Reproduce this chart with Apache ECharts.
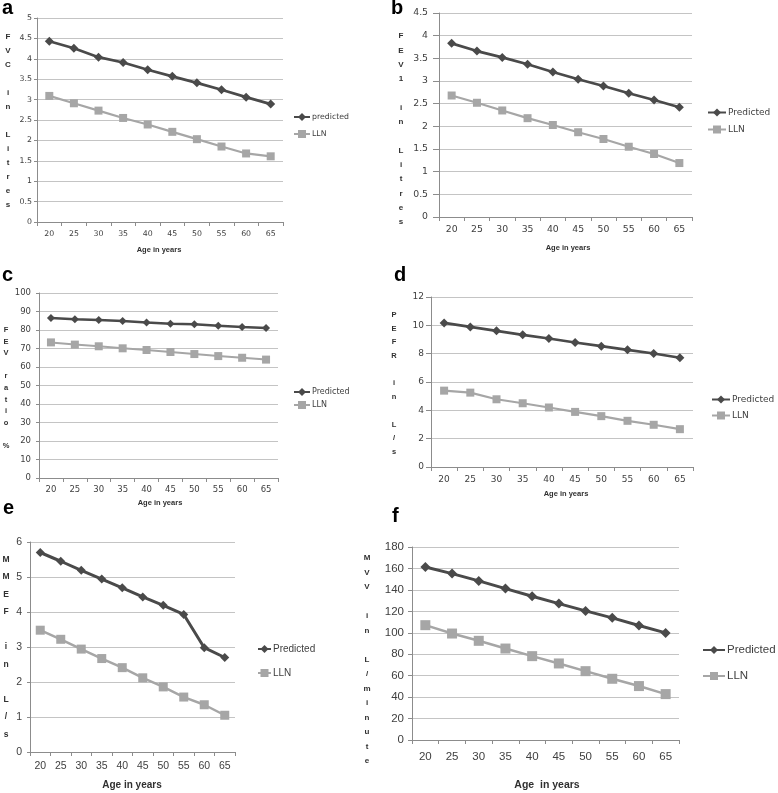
<!DOCTYPE html>
<html><head><meta charset="utf-8">
<script src="https://cdn.jsdelivr.net/npm/echarts@6/dist/echarts.min.js"></script>
<style>html,body{margin:0;padding:0;background:#fff}#c{width:778px;height:793px}</style>
</head><body><div id="c"></div>
<script>
// ---- data ----
const ages = ['20','25','30','35','40','45','50','55','60','65'];
const fvcPredicted = [4.43,4.26,4.04,3.91,3.73,3.57,3.41,3.24,3.06,2.89];
const fvcLLN = [3.09,2.91,2.73,2.55,2.39,2.21,2.03,1.85,1.68,1.61];
const fev1Predicted = [3.83,3.66,3.52,3.37,3.20,3.04,2.89,2.73,2.58,2.42];
const fev1LLN = [2.68,2.52,2.35,2.18,2.03,1.87,1.72,1.55,1.39,1.19];
const fevRatioPredicted = [86.5,85.8,85.4,84.9,84.1,83.4,83.1,82.3,81.6,81.1];
const fevRatioLLN = [73.3,72.1,71.2,70.1,69.2,68.1,67.0,65.9,65.0,64.0];
const pefrPredicted = [10.17,9.89,9.61,9.33,9.07,8.79,8.53,8.27,8.01,7.71];
const pefrLLN = [5.39,5.25,4.78,4.50,4.20,3.89,3.59,3.26,2.98,2.67];
const mmefPredicted = [5.70,5.45,5.19,4.94,4.69,4.43,4.19,3.93,2.98,2.70];
const mmefLLN = [3.48,3.22,2.94,2.67,2.41,2.12,1.86,1.57,1.35,1.05];
const mvvPredicted = [161.4,155.2,148.4,141.2,134.1,127.2,120.4,113.9,106.8,99.9];
const mvvLLN = [107.1,99.3,92.5,85.3,78.2,71.4,64.2,57.1,50.3,42.8];
const panelLetters = ['a','b','c','d','e','f'];
const predictedNames = ['predicted','Predicted','Predicted','Predicted','Predicted','Predicted'];
const llnName = 'LLN';
const yTitles = [
  'F\nV\nC\n\ni\nn\n\nL\ni\nt\nr\ne\ns',
  'F\nE\nV\n1\n\ni\nn\n\nL\ni\nt\nr\ne\ns',
  'F\nE\nV\n\nr\na\nt\ni\no\n\n%',
  'P\nE\nF\nR\n\ni\nn\n\nL\n/\ns',
  'M\nM\nE\nF\n\ni\nn\n\nL\n/\ns',
  'M\nV\nV\n\ni\nn\n\nL\n/\nm\ni\nn\nu\nt\ne'
];
const xTitles = ['Age in years','Age in years','Age in years','Age in years','Age in years','Age  in years'];
const yMaxes = [5, 4.5, 100, 12, 6, 180];
const yIntervals = [0.5, 0.5, 10, 2, 1, 20];
const predictedSeries = [fvcPredicted, fev1Predicted, fevRatioPredicted, pefrPredicted, mmefPredicted, mvvPredicted];
const llnSeries = [fvcLLN, fev1LLN, fevRatioLLN, pefrLLN, mmefLLN, mvvLLN];

// ---- layout / style ----
const DARK = '#4a4a4a', LIGHT = '#a6a6a6', TXT = '#404040';
const SANS = '"Liberation Sans", Arial, sans-serif';
const DEJAVU = '"DejaVu Sans", Verdana, sans-serif';
const L = [
  {grid:{left:37,top:18,width:246,height:204}, tf:DEJAVU, ts:7.8, xm:8, ym:5, yt:3,
   leg:{left:293,top:113,w:16,gap:9,fs:7.8,ff:DEJAVU},
   letter:[2,8], yTitle:{x:8,y:30,lh:14,fs:8,ff:SANS}, xTitle:{x:159,y:250,fs:7.5,ff:SANS},
   pw:2.7, lw:2.2, ds:9, ss:8},
  {grid:{left:439,top:13,width:253,height:204}, tf:DEJAVU, ts:9.3, xm:8, ym:11, yt:6,
   leg:{left:707,top:108,w:18,gap:8,fs:9,ff:DEJAVU},
   letter:[391,8], yTitle:{x:401,y:28.9,lh:14.3,fs:8,ff:SANS}, xTitle:{x:568,y:248,fs:7.5,ff:SANS},
   pw:2.7, lw:2.2, ds:9, ss:8},
  {grid:{left:39,top:293,width:239,height:185}, tf:DEJAVU, ts:8.5, xm:7, ym:8, yt:3,
   leg:{left:293,top:388,w:16,gap:5,fs:8,ff:DEJAVU},
   letter:[2,275], yTitle:{x:6,y:324.2,lh:11.6,fs:7.5,ff:SANS}, xTitle:{x:160,y:503,fs:7.5,ff:SANS},
   pw:2.5, lw:2, ds:8, ss:8},
  {grid:{left:431,top:297,width:262,height:170}, tf:DEJAVU, ts:9, xm:8, ym:7, yt:5,
   leg:{left:711,top:395,w:18,gap:7,fs:9,ff:DEJAVU},
   letter:[394,275], yTitle:{x:394,y:308,lh:13.7,fs:7.5,ff:SANS}, xTitle:{x:566,y:494,fs:7.5,ff:SANS},
   pw:2.7, lw:2.2, ds:9, ss:8},
  {grid:{left:30,top:542,width:205,height:210}, tf:SANS, ts:10.5, xm:9, ym:8, yt:3,
   leg:{left:257,top:644,w:13,gap:14,fs:10,ff:SANS},
   letter:[3,508], yTitle:{x:6,y:550.8,lh:17.5,fs:8.5,ff:SANS}, xTitle:{x:132,y:785,fs:10,ff:SANS},
   pw:3, lw:2.5, ds:9, ss:9},
  {grid:{left:412,top:547,width:267,height:193}, tf:SANS, ts:11.5, xm:11, ym:8, yt:4,
   leg:{left:702,top:644,w:22,gap:14,fs:11.5,ff:SANS},
   letter:[392,516], yTitle:{x:367,y:550.8,lh:14.5,fs:8,ff:SANS}, xTitle:{x:547,y:785,fs:10.5,ff:SANS},
   pw:3, lw:2.5, ds:10, ss:10}
];

const grid = [], xAxis = [], yAxis = [], series = [], legend = [], graphic = [];
L.forEach((p, i) => {
  grid.push(Object.assign({containLabel:false}, p.grid));
  xAxis.push({
    type:'category', gridIndex:i, data:ages, boundaryGap:true,
    axisLine:{lineStyle:{color:'#8c8c8c', width:1}},
    axisTick:{show:true, length:4, alignWithLabel:false, lineStyle:{color:'#8c8c8c'}},
    axisLabel:{color:TXT, fontFamily:p.tf, fontSize:p.ts, margin:p.xm, interval:0},
    splitLine:{show:false}
  });
  yAxis.push({
    type:'value', gridIndex:i, min:0, max:yMaxes[i], interval:yIntervals[i],
    axisLine:{show:true, lineStyle:{color:'#8c8c8c', width:1}},
    axisTick:{show:true, length:p.yt, lineStyle:{color:'#8c8c8c'}},
    axisLabel:{color:TXT, fontFamily:p.tf, fontSize:p.ts, margin:p.ym},
    splitLine:{show:true, lineStyle:{color:'#c4c4c4', width:1}}
  });
  series.push({
    type:'line', name:predictedNames[i], xAxisIndex:i, yAxisIndex:i, data:predictedSeries[i],
    symbol:'diamond', symbolSize:p.ds, showSymbol:true,
    lineStyle:{color:DARK, width:p.pw}, itemStyle:{color:DARK}, z:3, animation:false
  });
  series.push({
    type:'line', name:llnName, xAxisIndex:i, yAxisIndex:i, data:llnSeries[i],
    symbol:'rect', symbolSize:p.ss, showSymbol:true,
    lineStyle:{color:LIGHT, width:p.lw}, itemStyle:{color:LIGHT}, z:2, animation:false
  });
  legend.push({
    orient:'vertical', left:p.leg.left, top:p.leg.top, itemWidth:p.leg.w, itemHeight:10,
    itemGap:p.leg.gap, padding:0, selectedMode:false,
    data:[predictedNames[i], llnName],
    textStyle:{color:TXT, fontFamily:p.leg.ff, fontSize:p.leg.fs, padding:[0,0,0,-3]}
  });
  graphic.push({
    type:'text', style:{text:panelLetters[i], x:p.letter[0], y:p.letter[1],
      font:'bold 20px ' + SANS, fill:'#000', textAlign:'left', align:'left', textVerticalAlign:'middle', verticalAlign:'middle'}
  });
  graphic.push({
    type:'text', style:{text:yTitles[i], x:p.yTitle.x, y:p.yTitle.y, lineHeight:p.yTitle.lh,
      font:'bold ' + p.yTitle.fs + 'px ' + p.yTitle.ff, fill:'#303030',
      textAlign:'center', align:'center', textVerticalAlign:'top', verticalAlign:'top'}
  });
  graphic.push({
    type:'text', style:{text:xTitles[i], x:p.xTitle.x, y:p.xTitle.y,
      font:'bold ' + p.xTitle.fs + 'px ' + p.xTitle.ff, fill:'#303030',
      textAlign:'center', align:'center', textVerticalAlign:'middle', verticalAlign:'middle'}
  });
});

const chart = echarts.init(document.getElementById('c'), null, {renderer:'canvas'});
chart.setOption({animation:false, backgroundColor:'#fff', grid, xAxis, yAxis, series, legend, graphic});
</script></body></html>
